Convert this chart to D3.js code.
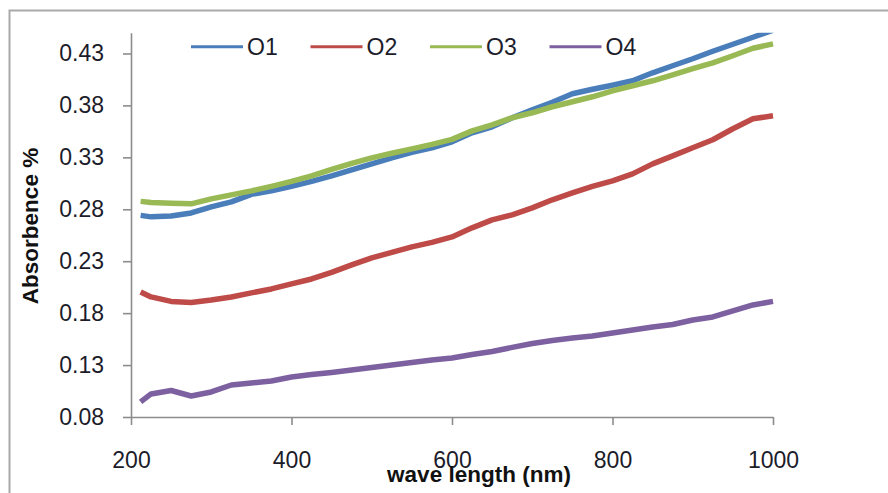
<!DOCTYPE html>
<html>
<head>
<meta charset="utf-8">
<script src="https://cdn.jsdelivr.net/npm/d3@7"></script>
<style>
	html, body { margin: 0; padding: 0; background: #fff; }
	svg { display: block; }
	.axis text { font-family: 'Liberation Sans', Arial, sans-serif; font-size: 23px; fill: #1c1c2a; }
	.axis .domain, .axis .tick line { stroke: #8c8c8c; stroke-width: 1.6; }
	.title { font-family: 'Liberation Sans', Arial, sans-serif; font-size: 22.5px; font-weight: bold; fill: #111; }
	.legend text { font-family: 'Liberation Sans', Arial, sans-serif; font-size: 23px; fill: #1c1c2a; }
</style>
</head>
<body>
<div class="chart"></div>
<script>
'use strict';

// Wavelengths (nm) the curves were read at.
var wavelengths = [212, 225, 250, 275, 300, 325, 350, 375, 400, 425, 450, 475, 500, 525, 550, 575,
	600, 625, 650, 675, 700, 725, 750, 775, 800, 825, 850, 875, 900, 925, 950, 975, 1000];

var o1 = [0.2741, 0.2727, 0.2736, 0.2765, 0.2823, 0.2871, 0.2944, 0.2977, 0.3021, 0.3069, 0.3122,
	0.3180, 0.3237, 0.3295, 0.3348, 0.3392, 0.3449, 0.3536, 0.3594, 0.3681, 0.3758, 0.3830, 0.3912,
	0.3955, 0.3994, 0.4037, 0.4114, 0.4182, 0.4249, 0.4321, 0.4389, 0.4456, 0.4525];
var o2 = [0.2004, 0.1956, 0.1913, 0.1903, 0.1927, 0.1956, 0.1995, 0.2033, 0.2081, 0.2129, 0.2192,
	0.2264, 0.2332, 0.2385, 0.2438, 0.2481, 0.2534, 0.2621, 0.2698, 0.2746, 0.2813, 0.2891, 0.2958,
	0.3021, 0.3074, 0.3141, 0.3237, 0.3314, 0.3392, 0.3469, 0.3575, 0.3671, 0.3700];
var o3 = [0.2876, 0.2866, 0.2857, 0.2852, 0.2900, 0.2939, 0.2977, 0.3021, 0.3069, 0.3122, 0.3184,
	0.3242, 0.3295, 0.3339, 0.3382, 0.3425, 0.3473, 0.3555, 0.3613, 0.3681, 0.3729, 0.3787, 0.3835,
	0.3883, 0.3941, 0.3989, 0.4037, 0.4095, 0.4153, 0.4210, 0.4278, 0.4350, 0.4393];
var o4 = [0.0945, 0.1022, 0.1055, 0.1002, 0.1041, 0.1108, 0.1128, 0.1147, 0.1185, 0.1209, 0.1229,
	0.1253, 0.1277, 0.1301, 0.1325, 0.1349, 0.1368, 0.1402, 0.1431, 0.1470, 0.1508, 0.1537, 0.1561,
	0.1580, 0.1609, 0.1638, 0.1667, 0.1691, 0.1734, 0.1763, 0.1821, 0.1879, 0.1913];

var seriesNames = ['O1', 'O2', 'O3', 'O4'];
var seriesColors = ['#4a7ebb', '#be4b48', '#98b954', '#7d60a0'];

var xTicks = [200, 400, 600, 800, 1000];
var yTicks = [0.08, 0.13, 0.18, 0.23, 0.28, 0.33, 0.38, 0.43];



var svgWidth = 888;
var svgHeight = 493;
var margin = {top: 32.7, left: 131};
var width = 773 - margin.left;
var height = 417 - margin.top;

var svg = d3.select('.chart').append('svg')
	.attr('width', svgWidth)
	.attr('height', svgHeight);

// Outer chart frame (cropped at right and bottom).
svg.append('rect')
	.attr('x', 9.5)
	.attr('y', 10.5)
	.attr('width', 950)
	.attr('height', 600)
	.attr('fill', 'none')
	.attr('stroke', '#a9a9a9')
	.attr('stroke-width', 2);

var x = d3.scaleLinear().domain([200, 1000]).range([0, width]);
var y = d3.scaleLinear().domain([0.08, 0.45]).range([height, 0]);

var g = svg.append('g')
	.attr('transform', `translate(${margin.left}, ${margin.top})`);

g.append('clipPath')
	.attr('id', 'plot-clip')
	.append('rect')
	.attr('x', 0)
	.attr('y', 0)
	.attr('width', width + 10)
	.attr('height', height);

// Axes
g.append('g')
	.attr('class', 'y axis')
	.call(d3.axisLeft(y)
		.tickValues(yTicks)
		.tickFormat(d3.format('.2f'))
		.tickSize(8)
		.tickSizeOuter(0)
		.tickPadding(19));

g.append('g')
	.attr('class', 'x axis')
	.attr('transform', `translate(0, ${height})`)
	.call(d3.axisBottom(x)
		.tickValues(xTicks)
		.tickFormat(d3.format('d'))
		.tickSize(8)
		.tickSizeOuter(0)
		.tickPadding(27));

// Series lines
var line = d3.line()
	.x(function(d) { return x(d[0]); })
	.y(function(d) { return y(d[1]); });

var series = [o1, o2, o3, o4].map(function(values, i) {
	return {
		name: seriesNames[i],
		color: seriesColors[i],
		points: wavelengths.map(function(w, j) { return [w, values[j]]; })
	};
});

g.append('g')
	.attr('clip-path', 'url(#plot-clip)')
	.selectAll('path')
	.data(series)
	.enter().append('path')
	.attr('d', function(d) { return line(d.points); })
	.attr('fill', 'none')
	.attr('stroke', function(d) { return d.color; })
	.attr('stroke-width', 5.5)
	.attr('stroke-linejoin', 'round');

// Axis titles
svg.append('text')
	.attr('class', 'title')
	.attr('x', 479)
	.attr('y', 482)
	.attr('text-anchor', 'middle')
	.text('wave length (nm)');

svg.append('text')
	.attr('class', 'title')
	.attr('transform', 'translate(37.5, 226) rotate(-90)')
	.attr('text-anchor', 'middle')
	.text('Absorbence %');

// Legend
var legend = svg.append('g')
	.attr('class', 'legend')
	.selectAll('g')
	.data(series)
	.enter().append('g')
	.attr('transform', function(d, i) { return `translate(${191 + i * 119.5}, 46.7)`; });

legend.append('line')
	.attr('x1', 0)
	.attr('x2', 52)
	.attr('stroke', function(d) { return d.color; })
	.attr('stroke-width', 3);

legend.append('text')
	.attr('x', 56)
	.attr('dy', '0.35em')
	.text(function(d) { return d.name; });
</script>
</body>
</html>
